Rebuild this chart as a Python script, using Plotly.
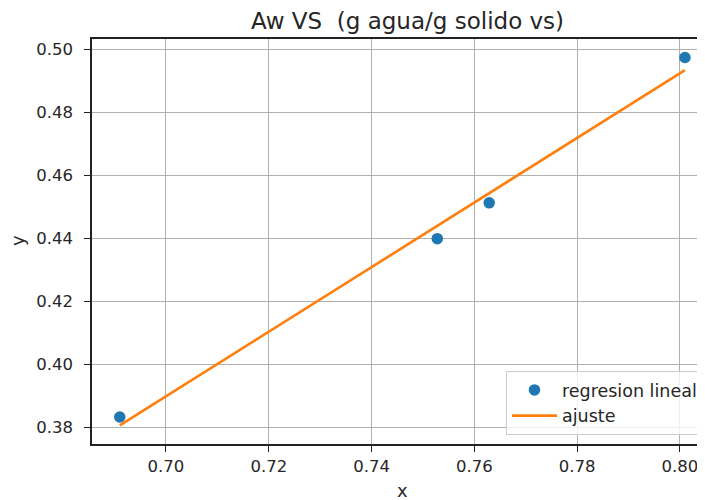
import plotly.graph_objects as go

# data
x_points = [0.691, 0.7528, 0.7629, 0.801]
y_points = [0.3832, 0.4399, 0.4513, 0.4975]
fit_x = [0.691, 0.7528, 0.7629, 0.801]
fit_y = [0.3805, 0.4440, 0.4544, 0.4935]
x_ticks = [0.70, 0.72, 0.74, 0.76, 0.78, 0.80]
y_ticks = [0.38, 0.40, 0.42, 0.44, 0.46, 0.48, 0.50]

FONT = "DejaVu Sans"
TXT = "#262626"
W, H = 697, 492          # page body has an 8px offset
L, T, B = 84, 31, 56
PW = W - L
PH = H - T - B

fig = go.Figure()
fig.add_trace(go.Scatter(x=x_points, y=y_points, mode="markers", name="regresion lineal",
                         marker=dict(color="#1f77b4", size=11.5)))
fig.add_trace(go.Scatter(x=fit_x, y=fit_y, mode="lines", name="ajuste",
                         line=dict(color="#ff7f0e", width=2.6)))

axis_common = dict(showgrid=True, gridcolor="#b0b0b0", gridwidth=1.3, zeroline=False,
                   showline=True, linecolor="#222", linewidth=1.5, automargin=False,
                   ticks="outside", ticklen=6, tickwidth=1.4, tickcolor="#222",
                   tickfont=dict(family=FONT, size=16.5, color=TXT))

fig.update_layout(
    width=W, height=H,
    margin=dict(l=L, r=0, t=T, b=B, autoexpand=False),
    paper_bgcolor="white", plot_bgcolor="white",
    title=dict(text="Aw VS\u00a0 (g agua/g solido vs)", x=(407.5 - 92) / PW, xref="paper",
               y=1 - 13 / H, yanchor="middle", xanchor="center",
               font=dict(family=FONT, size=23, color=TXT)),
    xaxis=dict(range=[0.6856, 0.8049], tickvals=x_ticks, tickformat=".2f", mirror=True,
               **axis_common),
    yaxis=dict(range=[0.3746, 0.5034], tickvals=y_ticks, tickformat=".2f",
               ticklabelstandoff=8, **axis_common),
    legend=dict(x=0.9967, y=9 / PH, xanchor="right", yanchor="bottom",
                bgcolor="rgba(255,255,255,0.8)", bordercolor="#cccccc", borderwidth=1,
                itemwidth=45,
                font=dict(family=FONT, size=17.5, color=TXT)),
    showlegend=True,
    annotations=[
        dict(text="x", xref="paper", yref="paper", x=(402 - 92) / PW, y=-46 / PH,
             xanchor="center", yanchor="middle", showarrow=False,
             font=dict(family=FONT, size=18, color=TXT)),
        dict(text="y", xref="paper", yref="paper", x=(17 - 92) / PW, y=(444 - 241) / PH,
             xanchor="center", yanchor="middle", showarrow=False, textangle=-90,
             font=dict(family=FONT, size=18, color=TXT)),
    ],
)
fig.write_html("out.html")
